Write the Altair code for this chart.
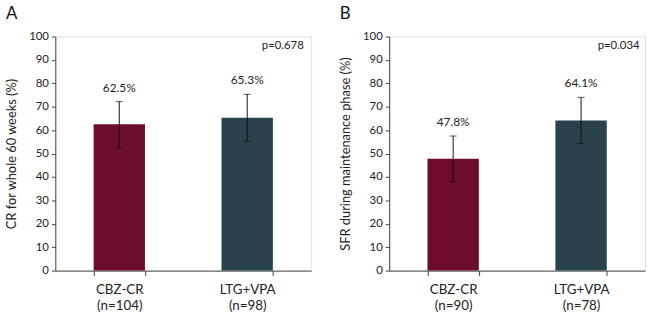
import altair as alt
import pandas as pd

FONT = "Lato"

groups_a = ["CBZ-CR|(n=104)", "LTG+VPA|(n=98)"]
values_a = [62.5, 65.3]
low_a = [52.5, 55.3]
high_a = [72.2, 75.3]
labels_a = ["62.5%", "65.3%"]

groups_b = ["CBZ-CR|(n=90)", "LTG+VPA|(n=78)"]
values_b = [47.8, 64.1]
low_b = [38.0, 54.3]
high_b = [57.5, 74.0]
labels_b = ["47.8%", "64.1%"]

colors = ["#6E0D2B", "#29434C"]
pvals = ["p=0.678", "p=0.034"]
ytitles = ["CR for whole 60 weeks (%)", "SFR during  maintenance phase (%)"]
panels = ["A", "B"]
yticks = list(range(0, 101, 10))


def panel(groups, values, low, high, labels, pval, ytitle, letter, pdx):
    df = pd.DataFrame({"group": groups, "value": values, "low": low,
                       "high": high, "label": labels, "color": colors})
    pdf = pd.DataFrame({"group": [groups[1]], "y": [96], "text": [pval]})
    xaxis = alt.Axis(labelExpr="isValid(datum.value) ? split(datum.value, '|') : ''",
                     labelAngle=0, tickBand="extent", tickSize=5, labelPadding=7,
                     labelFont=FONT, labelFontSize=13.5, labelColor="#222",
                     domainColor="#444", tickColor="#444", labelLineHeight=16)
    yaxis = alt.Axis(values=yticks, grid=False, tickSize=4, labelPadding=3,
                     labelFont=FONT, labelFontSize=11.5, labelColor="#222",
                     titleFont=FONT, titleFontSize=13, titleFontWeight="normal",
                     titleColor="#222", titlePadding=10,
                     domainColor="#444", tickColor="#444", labelOverlap=False)
    yscale = alt.Scale(domain=[0, 100], nice=False)

    def X():
        return alt.X("group:N", sort=groups, title=None,
                     scale=alt.Scale(paddingInner=0.6, paddingOuter=0.3), axis=xaxis)

    def Y(field):
        return alt.Y(field, title=ytitle, scale=yscale, axis=yaxis)

    base = alt.Chart(df)
    bars = base.mark_bar(size=52).encode(
        x=X(), y=Y("value:Q"), color=alt.Color("color:N", scale=None))
    err = base.mark_rule(color="#111", strokeWidth=1).encode(
        x=X(), y=Y("low:Q"), y2="high:Q")
    caps_hi = base.mark_tick(color="#111", size=7, thickness=1, orient="horizontal").encode(
        x=X(), y=Y("high:Q"))
    caps_lo = base.mark_tick(color="#111", size=7, thickness=1, orient="horizontal").encode(
        x=X(), y=Y("low:Q"))
    txt = base.mark_text(font=FONT, fontSize=12, color="#222", dy=-14, baseline="middle").encode(
        x=X(), y=Y("high:Q"), text="label:N")
    ptxt = alt.Chart(pdf).mark_text(font=FONT, fontSize=11.5, color="#222", dx=pdx,
                                    baseline="middle").encode(
        x=X(), y=Y("y:Q"), text="text:N")
    return alt.layer(bars, err, caps_hi, caps_lo, txt, ptxt).properties(
        width=259, height=237,
        title=alt.TitleParams(letter, anchor="start", frame="bounds", font=FONT,
                              fontSize=17, fontWeight="normal", color="#111", offset=8))


ca = panel(groups_a, values_a, low_a, high_a, labels_a, pvals[0], ytitles[0], panels[0], 36)
cb = panel(groups_b, values_b, low_b, high_b, labels_b, pvals[1], ytitles[1], panels[1], 38)

chart = alt.hconcat(ca, cb, spacing=27).properties(
    padding={"left": 5, "top": 2, "right": 2, "bottom": 2}
).configure_view(stroke=None).configure(background="white")

chart.save("out.html", embed_options={"renderer": "svg", "actions": False})
